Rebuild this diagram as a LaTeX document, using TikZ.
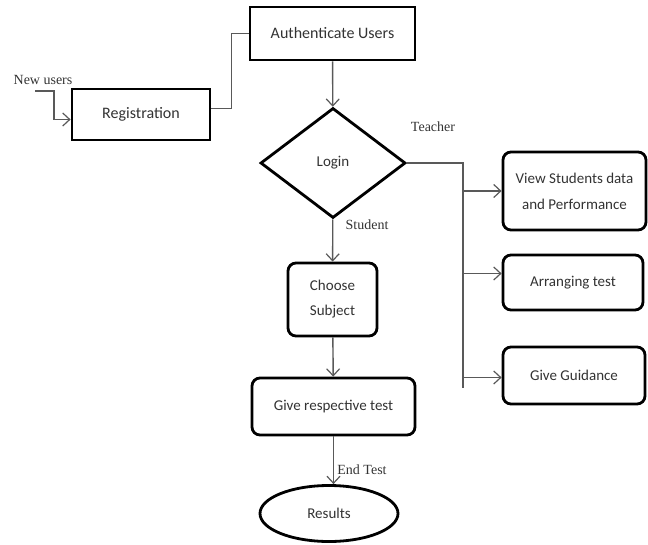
\documentclass[tikz,border=0pt]{standalone}
\usepackage{fontspec}
\setmainfont{Carlito}
\newfontfamily\labelfont{Liberation Serif}
\usetikzlibrary{shapes.geometric,arrows.meta}

\begin{document}
\begin{tikzpicture}[x=1pt,y=-1pt]
        \tikzstyle{process}=[rectangle,line width=2.8pt,draw=black,fill=white,text=black!80,inner sep=2pt,align=center,font=\fontsize{15}{26}\selectfont]
        \tikzstyle{roundbox}=[process,rounded corners=8pt]
        \tikzstyle{decision}=[diamond,line width=2.8pt,draw=black,text=black!80,inner sep=0pt,font=\fontsize{15}{26}\selectfont]
        \tikzstyle{terminal}=[ellipse,line width=2.8pt,draw=black,text=black!80,inner sep=0pt,font=\fontsize{15}{26}\selectfont]
        \tikzstyle{flow}=[draw=black!65,line width=1.4pt]
        \tikzstyle{arrow}=[flow,-{Straight Barb[length=7pt,width=13pt,line width=1.2pt]}]
        \tikzstyle{tag}=[font=\labelfont\fontsize{14}{16}\selectfont,text=black!80,inner sep=0pt]
        \useasboundingbox (0,0) rectangle (648,544);
       \begin{scope}
         \node [process,minimum width=165pt,minimum height=53pt,font=\fontsize{16}{26}\selectfont] (auth) at (332.5,33.5) {Authenticate Users};
         \node [process,minimum width=138pt,minimum height=51pt,font=\fontsize{16}{26}\selectfont] (reg) at (141,114.5) {Registration};
         \node [decision,minimum width=145pt,minimum height=110pt] (login) at (333,163) {Login};
         \node [roundbox,minimum width=143pt,minimum height=78pt] (view) at (574.5,191) {View Students data\\and Performance};
         \node [roundbox,minimum width=140pt,minimum height=55pt] (arrange) at (573,282.5) {Arranging test};
         \node [roundbox,minimum width=142pt,minimum height=57pt] (guide) at (574,375.5) {Give Guidance};
         \node [roundbox,minimum width=89pt,minimum height=73pt,font=\fontsize{15}{25}\selectfont] (choose) at (332.5,299.5) {Choose\\Subject};
         \node [roundbox,minimum width=163pt,minimum height=57pt] (givetest) at (333.5,406.5) {Give respective test};
         \node [terminal,minimum width=138pt,minimum height=56pt] (results) at (329,513.5) {Results};
         % labels
         \node [tag] (newusers) at (43,80) {New users};
         \node [tag] (teacher) at (433,127) {Teacher};
         \node [tag] (student) at (367,225) {Student};
         \node [tag] (endtest) at (362,470) {End Test};
         % free ends
         \coordinate (nustart) at (35,91);
         \coordinate (regin) at ([yshift=-5pt]reg.west);
         \coordinate (regout) at ([yshift=6pt]reg.east);
         \coordinate (trunk) at (463,163);
         \coordinate (trunkend) at (463,388);
         \coordinate (arrin) at ([yshift=9pt]arrange.west);
         \coordinate (guidein) at ([yshift=-2pt]guide.west);
         % connectors
         \path[arrow] (nustart) -- (54,91) |- (regin);
         \path[flow] (regout) -- ++(20,0) |- (auth.west);
         \path[arrow] (auth) -- (login);
         \path[arrow] (login) -- (choose);
         \path[arrow] (choose) -- (givetest);
         \path[arrow] (givetest.south) -- (givetest.south |- results.north);
         \path[flow] (login.east) -- (trunk) -- (trunkend);
         \path[arrow] (trunk |- view.west) -- (view.west);
         \path[arrow] (trunk |- arrin) -- (arrin);
         \path[arrow] (trunk |- guidein) -- (guidein);
        \end{scope}
      \end{tikzpicture}
\end{document}
